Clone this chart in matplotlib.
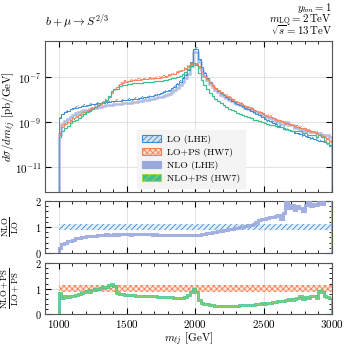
import numpy as np
import matplotlib
matplotlib.use('Agg')
import matplotlib.pyplot as plt
from matplotlib.patches import Patch
from matplotlib.ticker import MultipleLocator, FixedLocator, NullLocator

plt.rcParams.update({
    'font.family': 'serif', 'font.serif': ['cmr10', 'DejaVu Serif'],
    'mathtext.fontset': 'cm', 'axes.formatter.use_mathtext': True,
    'font.size': 8, 'hatch.linewidth': 0.6, 'axes.unicode_minus': False,
})

bin_edges = np.arange(1000, 3001, 20)

# log10 of dsigma/dm (pb/GeV), LO (LHE)
lo_log = [-8.82, -8.62, -8.55, -8.50, -8.43, -8.38, -8.35, -8.32, -8.29, -8.27,
          -8.25, -8.23, -8.21, -8.19, -8.17, -8.15, -8.13, -8.11, -8.10, -8.08,
          -8.07, -8.05, -8.04, -8.02, -8.01, -8.00, -7.98, -7.97, -7.95, -7.93,
          -7.92, -7.90, -7.88, -7.85, -7.82, -7.79, -7.75, -7.71, -7.67, -7.63,
          -7.57, -7.50, -7.42, -7.32, -7.20, -7.06, -6.90, -6.68, -6.35, -5.75,
          -5.74, -6.20, -6.55, -6.82, -7.02, -7.20, -7.36, -7.48, -7.60, -7.71,
          -7.80, -7.88, -7.96, -8.04, -8.11, -8.18, -8.24, -8.30, -8.37, -8.43,
          -8.49, -8.56, -8.63, -8.70, -8.78, -8.84, -8.90, -8.96, -9.02, -9.08,
          -9.15, -9.20, -9.25, -9.30, -9.36, -9.40, -9.46, -9.50, -9.54, -9.58,
          -9.62, -9.66, -9.70, -9.73, -9.77, -9.82, -9.85, -9.90, -9.94, -10.00]

# log10 of dsigma/dm, LO+PS (HW7)
lops_log = [-9.56, -9.20, -9.10, -9.00, -8.90, -8.82, -8.76, -8.70, -8.63, -8.57,
            -8.50, -8.45, -8.38, -8.32, -8.25, -8.18, -8.12, -8.05, -7.90, -7.70,
            -7.55, -7.42, -7.30, -7.25, -7.21, -7.18, -7.16, -7.14, -7.12, -7.11,
            -7.10, -7.08, -7.07, -7.06, -7.05, -7.04, -7.02, -7.00, -6.98, -6.95,
            -6.92, -6.88, -6.84, -6.79, -6.74, -6.68, -6.60, -6.52, -6.45, -6.38,
            -6.42, -6.58, -6.78, -6.95, -7.10, -7.24, -7.37, -7.48, -7.58, -7.67,
            -7.75, -7.83, -7.90, -7.97, -8.04, -8.10, -8.16, -8.22, -8.28, -8.33,
            -8.39, -8.45, -8.50, -8.55, -8.61, -8.66, -8.71, -8.76, -8.81, -8.86,
            -8.91, -8.95, -9.00, -9.04, -9.09, -9.12, -9.17, -9.20, -9.25, -9.28,
            -9.33, -9.36, -9.40, -9.44, -9.48, -9.55, -9.60, -9.68, -9.75, -9.85]

# NLO / LO
ratio_nlo_lo = [0.20, 0.33, 0.40, 0.45, 0.48, 0.52, 0.56, 0.58, 0.60, 0.62,
                0.64, 0.65, 0.66, 0.67, 0.68, 0.69, 0.70, 0.72, 0.71, 0.71,
                0.72, 0.71, 0.72, 0.73, 0.72, 0.72, 0.71, 0.73, 0.72, 0.72,
                0.74, 0.73, 0.72, 0.72, 0.71, 0.72, 0.71, 0.70, 0.70, 0.70,
                0.69, 0.69, 0.69, 0.69, 0.69, 0.69, 0.69, 0.69, 0.69, 0.70,
                0.70, 0.71, 0.72, 0.74, 0.76, 0.78, 0.80, 0.82, 0.84, 0.86,
                0.88, 0.90, 0.92, 0.94, 0.96, 0.98, 1.00, 1.02, 1.04, 1.06,
                1.08, 1.10, 1.18, 1.28, 1.30, 1.32, 1.36, 1.40, 1.40, 1.42,
                1.45, 1.30, 1.55, 1.95, 1.75, 1.85, 1.65, 1.80, 1.75, 1.60,
                1.85, 1.95, 1.80, 1.90, 1.85, 2.10, 1.90, 2.20, 2.30, 2.20]

# NLO+PS / LO+PS
ratio_nlops_lops = [0.82, 0.65, 0.70, 0.68, 0.72, 0.72, 0.75, 0.80, 0.82, 0.86,
                    0.90, 0.88, 0.95, 0.98, 1.00, 1.03, 1.05, 1.08, 1.15, 1.18,
                    1.10, 0.82, 0.78, 0.77, 0.76, 0.75, 0.75, 0.74, 0.73, 0.73,
                    0.72, 0.73, 0.72, 0.71, 0.70, 0.70, 0.69, 0.69, 0.68, 0.67,
                    0.67, 0.66, 0.65, 0.64, 0.63, 0.65, 0.68, 0.75, 0.88, 1.00,
                    0.88, 0.55, 0.45, 0.40, 0.38, 0.36, 0.34, 0.33, 0.32, 0.32,
                    0.31, 0.31, 0.32, 0.32, 0.33, 0.33, 0.34, 0.34, 0.35, 0.35,
                    0.36, 0.37, 0.38, 0.39, 0.42, 0.40, 0.43, 0.45, 0.46, 0.48,
                    0.50, 0.52, 0.50, 0.55, 0.58, 0.54, 0.60, 0.62, 0.72, 0.60,
                    0.68, 0.62, 0.70, 0.72, 0.65, 0.92, 0.85, 0.72, 0.66, 0.62]

legend_labels = ['LO (LHE)', 'LO+PS (HW7)', 'NLO (LHE)', 'NLO+PS (HW7)']

c_lo = '#3d8bd0'
c_lops = '#f2845c'
c_nlo = '#9aa8dc'
c_nlops = '#3cbf8a'
c_nlops_h = '#a8d84a'

lo = 10 ** np.array(lo_log)
lops = 10 ** np.array(lops_log)
r1 = np.array(ratio_nlo_lo)
r2 = np.array(ratio_nlops_lops)
nlo = lo * r1
nlops = lops * r2

fig = plt.figure(figsize=(3.49, 3.49), dpi=100)
ax = fig.add_axes([0.129, 0.450, 0.822, 0.4325])
ax1 = fig.add_axes([0.129, 0.275, 0.822, 0.149])
ax2 = fig.add_axes([0.129, 0.100, 0.822, 0.146])


def band(a, vals, frac, color, hatch, fc='none', z=2):
    lo_ = np.r_[vals * (1 - frac), vals[-1] * (1 - frac)]
    hi_ = np.r_[vals * (1 + frac), vals[-1] * (1 + frac)]
    a.fill_between(bin_edges, lo_, hi_, step='post', facecolor=fc,
                   edgecolor=color, hatch=hatch, lw=0, zorder=z)


# main panel
ax.stairs(nlo, bin_edges, color=c_nlo, lw=1.8, alpha=0.75, zorder=2)
band(ax, lo, 0.15, c_lo, '//////', z=3)
ax.stairs(lo, bin_edges, color=c_lo, lw=0.7, zorder=3)
band(ax, lops, 0.15, c_lops, 'xxxxxx', z=3)
ax.stairs(lops, bin_edges, color=c_lops, lw=0.7, zorder=3)
ax.stairs(nlops, bin_edges, color=c_nlops, lw=0.9, baseline=1e-20, zorder=4)

ax.set_yscale('log')
ax.set_xlim(900, 3000)
ax.set_ylim(8e-13, 4e-6)
ax.yaxis.set_major_locator(FixedLocator([1e-11, 1e-9, 1e-7]))
ax.yaxis.set_minor_locator(NullLocator())
ax.set_ylabel(r'$d\sigma/dm_{\ell j}$ [pb/GeV]', fontsize=8)
ax.yaxis.set_label_coords(-0.095, 0.5)

handles = [Patch(facecolor='#cfe3f5', edgecolor=c_lo, hatch='//////', lw=0.8),
           Patch(facecolor='#fcd9c9', edgecolor=c_lops, hatch='xxxxxx', lw=0.8),
           Patch(facecolor=c_nlo, edgecolor=c_nlo, lw=0.8),
           Patch(facecolor=c_nlops, edgecolor=c_nlops_h, hatch='////', lw=0.8)]
leg = ax.legend(handles, legend_labels, loc='lower left',
                bbox_to_anchor=(0.32, 0.025), borderaxespad=0.0,
                frameon=True, fancybox=False,
                framealpha=1.0, facecolor='#f4f4f4', edgecolor='#f4f4f4',
                fontsize=7, handlelength=2.0, handleheight=0.75,
                handletextpad=0.6, borderpad=0.5, labelspacing=0.42)
leg.set_zorder(5)

# ratio 1
band(ax1, np.ones(len(r1)), 0.12, c_lo, '//////', fc='#e3eff9', z=2)
ax1.stairs(r1, bin_edges, color=c_nlo, lw=2.2, alpha=0.9, zorder=3)
ax1.set_ylim(0, 2)
ax1.set_xlim(900, 3000)
ax1.set_ylabel(r'$\frac{\rm NLO}{\rm LO}$', fontsize=9)
ax1.yaxis.set_label_coords(-0.085, 0.5)

# ratio 2
band(ax2, np.ones(len(r2)), 0.13, c_lops, 'xxxxxx', fc='#fde6dc', z=2)
ax2.stairs(r2, bin_edges, color=c_nlops, lw=2.0, alpha=0.9, zorder=3)
ax2.stairs(r2, bin_edges, color=c_nlops_h, lw=0.5, alpha=0.8, zorder=3)
ax2.set_ylim(0, 2)
ax2.set_xlim(900, 3000)
ax2.set_ylabel(r'$\frac{\rm NLO+PS}{\rm LO+PS}$', fontsize=9)
ax2.yaxis.set_label_coords(-0.085, 0.5)
ax2.set_xlabel(r'$m_{\ell j}$ [GeV]')
ax2.xaxis.set_label_coords(0.5, -0.33)

for a in (ax, ax1, ax2):
    a.xaxis.set_major_locator(MultipleLocator(500))
    a.xaxis.set_minor_locator(MultipleLocator(100))
    a.tick_params(which='both', direction='in', top=True, right=True)
    a.tick_params(which='major', length=4, width=0.8, pad=2.5)
    a.tick_params(which='minor', length=2, width=0.6)
    a.grid(True, which='major', color='#dddddd', lw=0.6, zorder=0)
    a.set_axisbelow(True)
    for s in a.spines.values():
        s.set_color('#555555')
for a in (ax1, ax2):
    a.yaxis.set_major_locator(MultipleLocator(1))
    a.yaxis.set_minor_locator(MultipleLocator(0.2))
    a.tick_params(axis='y', labelsize=7.5)
for a in (ax, ax1):
    a.tick_params(labelbottom=False)

fig.text(0.129, 0.925, r'$b + \mu \to S^{2/3}$', ha='left', va='baseline', fontsize=8.5)
fig.text(0.951, 0.969, r'$y_{bm} = 1$', ha='right', va='baseline', fontsize=7.8)
fig.text(0.951, 0.934, r'$m_{\rm LQ} = 2\,\rm TeV$', ha='right', va='baseline', fontsize=7.8)
fig.text(0.951, 0.899, r'$\sqrt{s} = 13\,\rm TeV$', ha='right', va='baseline', fontsize=7.8)

fig.savefig('out.png', dpi=100)
